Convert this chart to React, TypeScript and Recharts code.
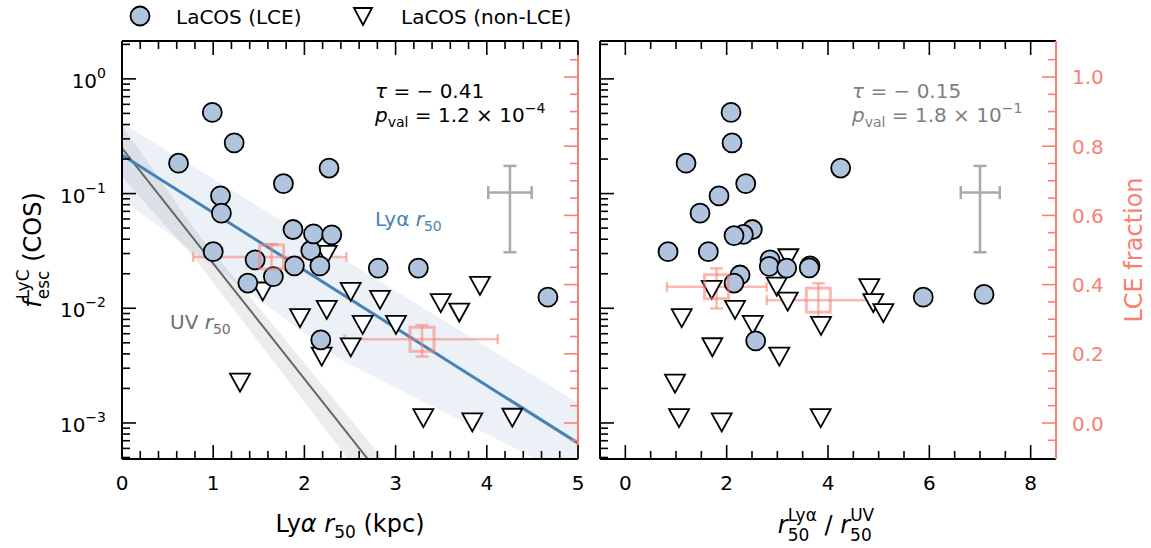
import React from 'react';
import { ComposedChart, Scatter, Line, Area, XAxis, YAxis, ErrorBar } from 'recharts';

const FONT = '"DejaVu Sans", sans-serif';
const SALMON = '#fa8072';
const PINK = 'rgba(250,128,114,0.55)';
const LCE_FILL = '#b0c4de';
const BLUE = '#4682b4';
const CROSS = '#a9a9a9';

// ---- left panel: Lya r50 (kpc) vs f_esc ----
const leftLce = [
  { x: 0.62, y: 0.184 }, { x: 0.99, y: 0.51 }, { x: 1.23, y: 0.277 }, { x: 1.08, y: 0.0955 },
  { x: 1.09, y: 0.0675 }, { x: 1.0, y: 0.0312 }, { x: 1.38, y: 0.0166 }, { x: 1.46, y: 0.0264 },
  { x: 1.66, y: 0.0189 }, { x: 1.77, y: 0.122 }, { x: 1.875, y: 0.0486 }, { x: 1.89, y: 0.0234 },
  { x: 2.07, y: 0.0319 }, { x: 2.1, y: 0.0445 }, { x: 2.17, y: 0.0234 }, { x: 2.18, y: 0.0053 },
  { x: 2.27, y: 0.167 }, { x: 2.3, y: 0.0437 }, { x: 2.81, y: 0.0224 }, { x: 3.25, y: 0.0224 },
  { x: 4.67, y: 0.0125 },
];
const leftNonLce = [
  { x: 1.543, y: 0.014 }, { x: 1.294, y: 0.00225 }, { x: 1.952, y: 0.0082 }, { x: 2.245, y: 0.00968 },
  { x: 2.19, y: 0.00379 }, { x: 2.508, y: 0.0139 }, { x: 2.508, y: 0.00456 }, { x: 2.829, y: 0.01184 },
  { x: 2.639, y: 0.00716 }, { x: 3.004, y: 0.00716 }, { x: 3.495, y: 0.01107 }, { x: 3.698, y: 0.00918 },
  { x: 3.925, y: 0.01567 }, { x: 3.304, y: 0.0011 }, { x: 3.841, y: 0.00101 }, { x: 4.28, y: 0.00111 },
  { x: 2.245, y: 0.0292 },
];
// binned LCE fraction (right axis)
const leftFrac = [
  { x: 1.64, y: 0.48, ex: [0.86, 0.82], ey: [0.05, 0.037] },
  { x: 3.29, y: 0.242, ex: [0.85, 0.83], ey: [0.05, 0.041] },
];
const leftCross = [{ x: 4.254, y: 0.102, ex: [0.238, 0.238], ey: [0.0712, 0.0723] }];
const lyaFit = [{ x: 0, y: 0.217 }, { x: 5, y: 0.000667 }];
const lyaBand = [
  { x: 0, band: [0.089, 0.413] },
  { x: 2.4, band: [0.00355, 0.0279] },
  { x: 5, band: [0.000316, 0.00149] },
];
const uvFit = [{ x: 0, y: 0.249 }, { x: 3, y: 0.000239 }];
const uvBand = [
  { x: 0, band: [0.14, 0.394] },
  { x: 0.8, band: [0.027, 0.0483] },
  { x: 2.9, band: [0.000177, 0.000446] },
];

// ---- right panel: r50(Lya)/r50(UV) vs f_esc ----
const rightLce = [
  { x: 2.086, y: 0.51 }, { x: 2.106, y: 0.277 }, { x: 1.198, y: 0.184 }, { x: 2.376, y: 0.122 },
  { x: 1.849, y: 0.0955 }, { x: 1.474, y: 0.0675 }, { x: 2.507, y: 0.0486 }, { x: 2.33, y: 0.044 },
  { x: 2.145, y: 0.043 }, { x: 0.843, y: 0.0312 }, { x: 1.638, y: 0.0312 }, { x: 2.856, y: 0.0264 },
  { x: 2.84, y: 0.0232 }, { x: 3.185, y: 0.0224 }, { x: 3.645, y: 0.0234 }, { x: 3.63, y: 0.0225 },
  { x: 2.264, y: 0.0195 }, { x: 2.145, y: 0.0166 }, { x: 2.573, y: 0.0052 }, { x: 4.25, y: 0.167 },
  { x: 5.88, y: 0.0125 }, { x: 7.08, y: 0.0132 },
];
const rightNonLce = [
  { x: 1.705, y: 0.01446 }, { x: 1.113, y: 0.0082 }, { x: 2.165, y: 0.00968 }, { x: 2.514, y: 0.00716 },
  { x: 1.717, y: 0.00457 }, { x: 3.039, y: 0.00379 }, { x: 0.981, y: 0.0022 }, { x: 1.06, y: 0.0011 },
  { x: 1.902, y: 0.00101 }, { x: 3.856, y: 0.0011 }, { x: 2.988, y: 0.01546 }, { x: 3.205, y: 0.01144 },
  { x: 3.862, y: 0.00703 }, { x: 3.217, y: 0.0273 }, { x: 4.815, y: 0.01497 }, { x: 4.894, y: 0.01107 },
  { x: 5.092, y: 0.00906 },
];
const rightFrac = [
  { x: 1.8, y: 0.394, ex: [0.98, 0.99], ey: [0.063, 0.053] },
  { x: 3.81, y: 0.355, ex: [1.02, 0.99], ey: [0.057, 0.049] },
];
const rightCross = [{ x: 7.0, y: 0.102, ex: [0.38, 0.39], ey: [0.0712, 0.0723] }];

// ---- axes ----
const yDomain = [4.85e-4, 2.14];
const lceDomain = [-0.104, 1.104];
const yTicks: number[] = [];
for (let e = -4; e <= 0; e++) for (let m = 1; m <= 9; m++) {
  const v = m * Math.pow(10, e);
  if (v >= yDomain[0] && v <= yDomain[1]) yTicks.push(v);
}
const lceMajor = [0, 0.2, 0.4, 0.6, 0.8, 1.0];
const lceTicks = Array.from({ length: 23 }, (_, i) => -0.05 + i * 0.05);
const leftXMajor = [0, 1, 2, 3, 4, 5];
const leftXTicks = Array.from({ length: 26 }, (_, i) => i * 0.2);
const rightXMajor = [0, 2, 4, 6, 8];
const rightXTicks = Array.from({ length: 17 }, (_, i) => i * 0.5);

const near = (a: number, b: number) => Math.abs(a - b) < 1e-6;

const makeXTick = (majors: number[], side: 'bottom' | 'top') => (p: any) => {
  const v = p.payload.value;
  const major = majors.some((m) => near(m, v));
  const len = major ? 14 : 8;
  const d = side === 'bottom' ? -1 : 1;
  return (
    <g>
      <line x1={p.x} x2={p.x} y1={p.y} y2={p.y + d * len} stroke="#000" strokeWidth={1.6} />
      {side === 'bottom' && major && (
        <text x={p.x} y={p.y + 31} textAnchor="middle" fontSize={20} fontFamily={FONT} fill="#000">{v}</text>
      )}
    </g>
  );
};

const makeLogTick = (showLabel: boolean) => (p: any) => {
  const v = p.payload.value;
  const e = Math.round(Math.log10(v));
  const major = near(Math.log10(v), e);
  const len = major ? 14 : 8;
  return (
    <g>
      <line x1={p.x} x2={p.x + len} y1={p.y} y2={p.y} stroke="#000" strokeWidth={1.6} />
      {showLabel && major && (
        <text x={p.x - 16} y={p.y + 9} textAnchor="end" fontSize={20} fontFamily={FONT} fill="#000">
          10<tspan dy={-10} fontSize={14}>{e < 0 ? `\u2212${-e}` : `${e}`}</tspan>
        </text>
      )}
    </g>
  );
};

const makeLceTick = (showLabel: boolean) => (p: any) => {
  const v = p.payload.value;
  const major = lceMajor.some((m) => near(m, v));
  const len = major ? 14 : 8;
  return (
    <g>
      <line x1={p.x} x2={p.x - len} y1={p.y} y2={p.y} stroke={SALMON} strokeWidth={1.6} />
      {showLabel && major && (
        <text x={p.x + 16} y={p.y + 7.5} fontSize={20} fontFamily={FONT} fill={SALMON}>{Math.abs(v).toFixed(1)}</text>
      )}
    </g>
  );
};

const CircleMark = (p: any) => (
  <circle cx={p.cx} cy={p.cy} r={9.5} fill={LCE_FILL} stroke="#000" strokeWidth={1.8} />
);
const TriMark = (p: any) => (
  <path d={`M${p.cx - 10},${p.cy - 9}L${p.cx + 10},${p.cy - 9}L${p.cx},${p.cy + 9}Z`}
    fill="#fff" stroke="#000" strokeWidth={1.8} />
);
const SquareMark = (p: any) => (
  <rect x={p.cx - 12} y={p.cy - 12} width={24} height={24} fill="none" stroke={PINK} strokeWidth={3} />
);
const NoMark = () => <g />;

type PanelProps = {
  width: number;
  leftW: number;
  rightW: number;
  xDomain: number[];
  xTicks: number[];
  xMajor: number[];
  lce: any[];
  nonLce: any[];
  frac: any[];
  cross: any[];
  labels: boolean;
  left: boolean;
};

const Panel = (c: PanelProps) => (
  <ComposedChart width={c.width} height={548} margin={{ top: 40, right: 0, bottom: 0, left: 0 }}>
    <XAxis xAxisId={0} dataKey="x" type="number" domain={c.xDomain} allowDataOverflow ticks={c.xTicks}
      interval={0} height={89} tickSize={0} tickMargin={0} tickLine={false}
      axisLine={{ stroke: '#000', strokeWidth: 2 }} tick={makeXTick(c.xMajor, 'bottom')} />
    <XAxis xAxisId="top" orientation="top" dataKey="x" type="number" domain={c.xDomain} allowDataOverflow
      ticks={c.xTicks} interval={0} height={1} tickSize={0} tickMargin={0} tickLine={false}
      axisLine={{ stroke: '#000', strokeWidth: 2 }} tick={makeXTick(c.xMajor, 'top')} />
    <YAxis yAxisId={0} type="number" scale="log" domain={yDomain} allowDataOverflow ticks={yTicks}
      interval={0} width={c.leftW} tickSize={0} tickMargin={0} tickLine={false}
      axisLine={{ stroke: '#000', strokeWidth: 2 }} tick={makeLogTick(c.labels)} />
    <YAxis yAxisId="lce" orientation="right" type="number" domain={lceDomain} allowDataOverflow
      ticks={lceTicks} interval={0} width={c.rightW} tickSize={0} tickMargin={0} tickLine={false}
      axisLine={{ stroke: SALMON, strokeWidth: 2 }} tick={makeLceTick(!c.labels)} />

    {c.left && (
      <Area data={uvBand} dataKey="band" type="linear" stroke="none" fill="#8c8c8c" fillOpacity={0.17}
        isAnimationActive={false} />
    )}
    {c.left && (
      <Area data={lyaBand} dataKey="band" type="linear" stroke="none" fill={BLUE} fillOpacity={0.11}
        isAnimationActive={false} />
    )}
    {c.left && (
      <Line data={uvFit} dataKey="y" type="linear" stroke="#666" strokeWidth={2} dot={false}
        isAnimationActive={false} />
    )}
    {c.left && (
      <Line data={lyaFit} dataKey="y" type="linear" stroke={BLUE} strokeWidth={3} dot={false}
        isAnimationActive={false} />
    )}

    <Scatter data={c.nonLce} dataKey="y" shape={TriMark} isAnimationActive={false} />
    <Scatter data={c.lce} dataKey="y" shape={CircleMark} isAnimationActive={false} />
    <Scatter data={c.frac} dataKey="y" yAxisId="lce" shape={SquareMark} isAnimationActive={false}>
      <ErrorBar dataKey="ex" direction="x" width={5} stroke={PINK} strokeWidth={2.5} />
      <ErrorBar dataKey="ey" direction="y" width={6.5} stroke={PINK} strokeWidth={2.5} />
    </Scatter>
    <Scatter data={c.cross} dataKey="y" shape={NoMark} isAnimationActive={false}>
      <ErrorBar dataKey="ex" direction="x" width={6.5} stroke={CROSS} strokeWidth={2.5} />
      <ErrorBar dataKey="ey" direction="y" width={6.5} stroke={CROSS} strokeWidth={2.5} />
    </Scatter>
  </ComposedChart>
);

const SUB = 17;

export default function App() {
  return (
    <div style={{ position: 'absolute', left: 0, top: 0, width: 1151, height: 548, background: '#fff' }}>
      <div style={{ position: 'absolute', left: 0, top: 0 }}>
        <Panel width={600} leftW={122} rightW={22} xDomain={[0, 5]} xTicks={leftXTicks} xMajor={leftXMajor}
          lce={leftLce} nonLce={leftNonLce} frac={leftFrac} cross={leftCross} labels={true} left={true} />
      </div>
      <div style={{ position: 'absolute', left: 578, top: 0 }}>
        <Panel width={573} leftW={22} rightW={95} xDomain={[-0.5, 8.5]} xTicks={rightXTicks} xMajor={rightXMajor}
          lce={rightLce} nonLce={rightNonLce} frac={rightFrac} cross={rightCross} labels={false} left={false} />
      </div>

      <svg width={1151} height={548} fontFamily={FONT}
        style={{ position: 'absolute', left: 0, top: 0, pointerEvents: 'none' }}>
        {/* legend */}
        <circle cx={140} cy={16} r={9.5} fill={LCE_FILL} stroke="#000" strokeWidth={1.8} />
        <text x={176} y={24} fontSize={20}>LaCOS (LCE)</text>
        <path d="M354,8L372,8L363,25Z" fill="#fff" stroke="#000" strokeWidth={1.8} />
        <text x={401} y={24} fontSize={20}>LaCOS (non-LCE)</text>

        {/* statistics */}
        <text x={375} y={98} fontSize={20}><tspan fontStyle="italic">τ</tspan> = − 0.41</text>
        <text x={375} y={122} fontSize={20}>
          <tspan fontStyle="italic">p</tspan><tspan dy={5} fontSize={14}>val</tspan>
          <tspan dy={-5}> = 1.2 × 10</tspan><tspan dy={-9} fontSize={14}>−4</tspan>
        </text>
        <text x={852} y={98} fontSize={20} fill="#7f7f7f"><tspan fontStyle="italic">τ</tspan> = − 0.15</text>
        <text x={852} y={122} fontSize={20} fill="#7f7f7f">
          <tspan fontStyle="italic">p</tspan><tspan dy={5} fontSize={14}>val</tspan>
          <tspan dy={-5}> = 1.8 × 10</tspan><tspan dy={-9} fontSize={14}>−1</tspan>
        </text>

        {/* fit labels */}
        <text x={375} y={226} fontSize={20} fill={BLUE}>
          Lyα <tspan fontStyle="italic">r</tspan><tspan dy={5} fontSize={14}>50</tspan>
        </text>
        <text x={170} y={329} fontSize={20} fill="#6e6e6e">
          UV <tspan fontStyle="italic">r</tspan><tspan dy={5} fontSize={14}>50</tspan>
        </text>

        {/* axis labels */}
        <text x={350} y={532} fontSize={24} textAnchor="middle">
          Ly<tspan fontStyle="italic">α</tspan> <tspan fontStyle="italic">r</tspan>
          <tspan dy={6} fontSize={SUB}>50</tspan><tspan dy={-6}> (kpc)</tspan>
        </text>
        <text x={826} y={533} fontSize={24} textAnchor="middle">
          <tspan fontStyle="italic">r</tspan>
          <tspan dy={8} fontSize={SUB}>50</tspan>
          <tspan dx={-21.6} dy={-20.5} fontSize={SUB}>Lyα</tspan>
          <tspan dy={12.5}> / </tspan>
          <tspan fontStyle="italic">r</tspan>
          <tspan dy={8} fontSize={SUB}>50</tspan>
          <tspan dx={-21.6} dy={-20.5} fontSize={SUB}>UV</tspan>
        </text>
        <text transform="translate(41,250) rotate(-90)" fontSize={24} textAnchor="middle">
          <tspan fontStyle="italic">f</tspan>
          <tspan dy={8} fontSize={SUB}>esc</tspan>
          <tspan dx={-28.7} dy={-20.5} fontSize={SUB}>LyC</tspan>
          <tspan dy={12.5}> (COS)</tspan>
        </text>
        <text transform="translate(1142,250) rotate(-90)" fontSize={24} textAnchor="middle" fill={SALMON}>
          LCE fraction
        </text>
      </svg>
    </div>
  );
}
